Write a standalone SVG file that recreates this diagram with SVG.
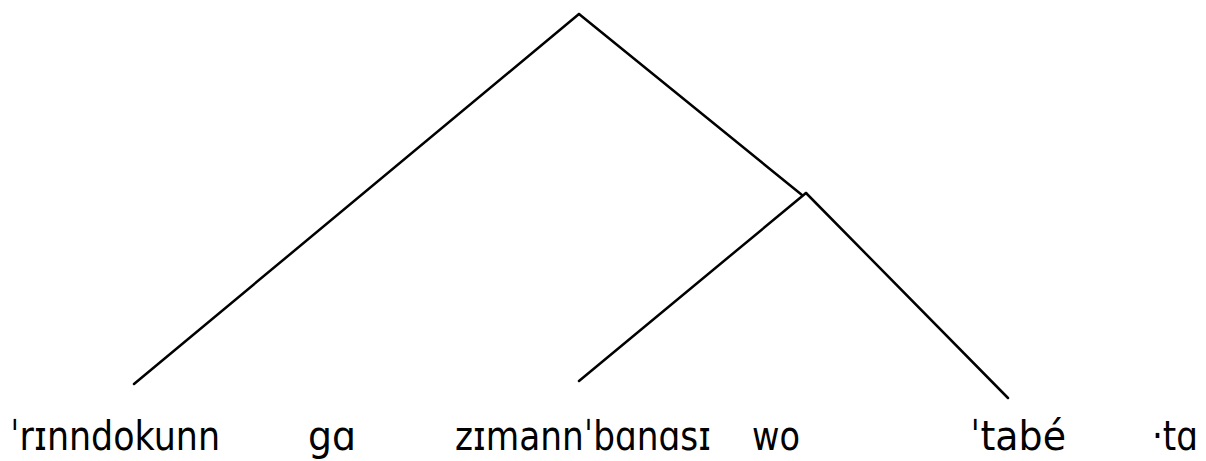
<svg xmlns="http://www.w3.org/2000/svg" width="1206" height="461" viewBox="0 0 1206 461">
<style>
.e{stroke:#000;stroke-width:2.5;fill:none;stroke-linecap:round}
.t{font-family:"DejaVu Sans","Noto Sans",sans-serif;font-size:40px;fill:#000}
</style>
<rect width="1206" height="461" fill="#fff"/>
<g id="connectors">
<line class="e" x1="579" y1="14" x2="134" y2="384"/>
<line class="e" x1="579" y1="14" x2="802" y2="195"/>
<line class="e" x1="806" y1="193" x2="1008" y2="398"/>
<line class="e" x1="806" y1="193" x2="579" y2="381"/>
</g>
<g id="w1"><text class="t" x="10" y="450" textLength="210" lengthAdjust="spacingAndGlyphs">ˈrɪnndokunn</text></g>
<g id="w2"><text class="t" x="308" y="450" textLength="48" lengthAdjust="spacingAndGlyphs">gɑ</text></g>
<g id="w3"><text class="t" x="455" y="450" textLength="256" lengthAdjust="spacingAndGlyphs">zɪmannˈbɑnɑsɪ</text></g>
<g id="w4"><text class="t" x="752" y="450" textLength="48" lengthAdjust="spacingAndGlyphs">wo</text></g>
<g id="w5"><text class="t" x="970" y="450" textLength="96" lengthAdjust="spacingAndGlyphs">ˈtabé</text></g>
<g id="w6"><text class="t" x="1152" y="450" textLength="46" lengthAdjust="spacingAndGlyphs">·tɑ</text></g>
</svg>
